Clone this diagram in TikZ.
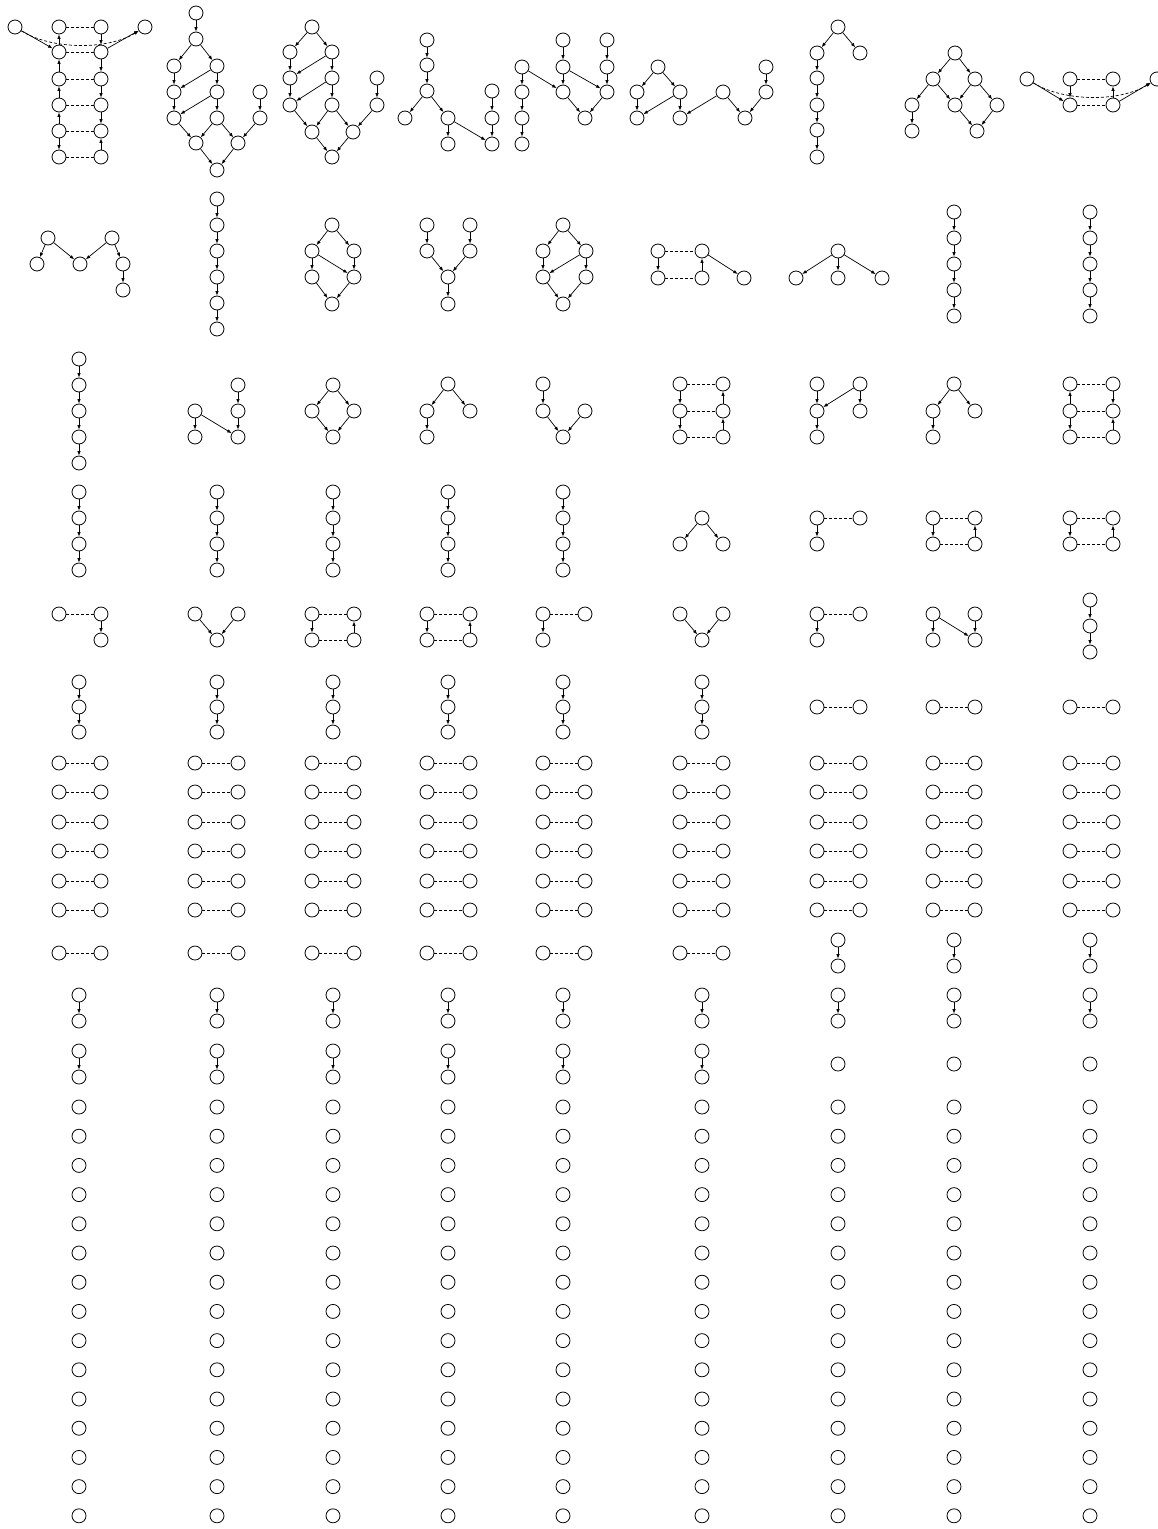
\documentclass[tikz,border=0pt]{standalone}
\usetikzlibrary{arrows.meta}

\begin{document}
\begin{tikzpicture}[x=1pt,y=-1pt,
    v/.style={circle, draw, line width=0.8pt, minimum size=14pt, inner sep=0pt},
    e/.style={-{Latex[length=4.5pt,width=3.5pt]}, line width=0.7pt},
    d/.style={dash pattern=on 3pt off 2pt, line width=0.7pt}
]
\useasboundingbox (0,0) rectangle (1158,1529);

% --- first row ---
\node[v] (a0) at (15,27) {};
\node[v] (a9) at (145,27) {};
\foreach \yy [count=\j] in {27,52,79,105,131,157} {
    \node[v] (aL\j) at (59,\yy) {};
    \node[v] (aR\j) at (101,\yy) {};
    \draw[d] (aL\j) -- (aR\j);
}
\foreach \p/\q in {a0/aL2, aR2/a9, aL2/aL1, aL3/aL2, aL4/aL3, aL5/aL4, aL5/aL6,
                   aR1/aR2, aR2/aR3, aR3/aR4, aR4/aR5, aR6/aR5}
    \draw[e] (\p) -- (\q);
\draw[e,d] (a0) .. controls (52,50) and (108,50) .. (a9);

\node[v] (b1) at (196,13) {};
\node[v] (b2) at (196,39) {};
\node[v] (b3) at (174,66) {};
\node[v] (b4) at (217,66) {};
\node[v] (b5) at (174,92) {};
\node[v] (b6) at (217,92) {};
\node[v] (b7) at (174,118) {};
\node[v] (b8) at (217,118) {};
\node[v] (b9) at (196,143) {};
\node[v] (b10) at (238,143) {};
\node[v] (b11) at (217,170) {};
\node[v] (b12) at (260,92) {};
\node[v] (b13) at (260,118) {};
\foreach \p/\q in {b1/b2, b2/b3, b2/b4, b3/b5, b4/b5, b4/b6, b5/b7, b6/b7, b6/b8,
                   b7/b9, b8/b9, b8/b10, b12/b13, b13/b10, b9/b11, b10/b11}
    \draw[e] (\p) -- (\q);

\node[v] (c1) at (312,27) {};
\node[v] (c2) at (290,52) {};
\node[v] (c3) at (332,52) {};
\node[v] (c4) at (290,78) {};
\node[v] (c5) at (332,78) {};
\node[v] (c6) at (290,105) {};
\node[v] (c7) at (332,105) {};
\node[v] (c8) at (312,132) {};
\node[v] (c9) at (353,132) {};
\node[v] (c10) at (332,157) {};
\node[v] (c11) at (377,78) {};
\node[v] (c12) at (377,105) {};
\foreach \p/\q in {c1/c2, c1/c3, c2/c4, c3/c4, c3/c5, c4/c6, c5/c6, c5/c7,
                   c6/c8, c7/c8, c7/c9, c11/c12, c12/c9, c8/c10, c9/c10}
    \draw[e] (\p) -- (\q);

\node[v] (d1) at (427,40) {};
\node[v] (d2) at (427,65) {};
\node[v] (d3) at (427,91) {};
\node[v] (d4) at (405,118) {};
\node[v] (d5) at (448,118) {};
\node[v] (d6) at (448,144) {};
\node[v] (d7) at (492,91) {};
\node[v] (d8) at (492,118) {};
\node[v] (d9) at (492,144) {};
\foreach \p/\q in {d1/d2, d2/d3, d3/d4, d3/d5, d5/d6, d5/d9, d7/d8, d8/d9}
    \draw[e] (\p) -- (\q);

\node[v] (f1) at (522,67) {};
\node[v] (f2) at (522,92) {};
\node[v] (f3) at (522,118) {};
\node[v] (f4) at (522,144) {};
\node[v] (f5) at (563,40) {};
\node[v] (f6) at (563,67) {};
\node[v] (f7) at (563,92) {};
\node[v] (f8) at (607,40) {};
\node[v] (f9) at (607,67) {};
\node[v] (f10) at (607,92) {};
\node[v] (f11) at (585,118) {};
\foreach \p/\q in {f1/f2, f2/f3, f3/f4, f1/f7, f5/f6, f6/f7, f6/f10, f8/f9, f9/f10,
                   f7/f11, f10/f11}
    \draw[e] (\p) -- (\q);

\node[v] (g1) at (658,67) {};
\node[v] (g2) at (637,92) {};
\node[v] (g3) at (680,92) {};
\node[v] (g4) at (637,118) {};
\node[v] (g5) at (680,118) {};
\node[v] (g6) at (723,92) {};
\node[v] (g7) at (745,118) {};
\node[v] (g8) at (766,67) {};
\node[v] (g9) at (766,92) {};
\foreach \p/\q in {g1/g2, g1/g3, g2/g4, g3/g4, g3/g5, g6/g5, g6/g7, g8/g9, g9/g7}
    \draw[e] (\p) -- (\q);

\node[v] (h1) at (838,27) {};
\node[v] (h2) at (817,53) {};
\node[v] (h3) at (860,53) {};
\node[v] (h4) at (817,78) {};
\node[v] (h5) at (817,105) {};
\node[v] (h6) at (817,130) {};
\node[v] (h7) at (817,157) {};
\foreach \p/\q in {h1/h2, h1/h3, h2/h4, h4/h5, h5/h6, h6/h7}
    \draw[e] (\p) -- (\q);

\node[v] (k1) at (955,53) {};
\node[v] (k2) at (933,79) {};
\node[v] (k3) at (975,79) {};
\node[v] (k4) at (912,105) {};
\node[v] (k5) at (955,105) {};
\node[v] (k6) at (997,105) {};
\node[v] (k7) at (912,131) {};
\node[v] (k8) at (977,131) {};
\foreach \p/\q in {k1/k2, k1/k3, k2/k4, k2/k5, k3/k5, k3/k6, k4/k7, k5/k8, k6/k8}
    \draw[e] (\p) -- (\q);

\node[v] (m0) at (1027,79) {};
\node[v] (m1) at (1070,79) {};
\node[v] (m2) at (1070,105) {};
\node[v] (m3) at (1113,79) {};
\node[v] (m4) at (1113,105) {};
\node[v] (m5) at (1157,79) {};
\draw[d] (m1) -- (m3);
\draw[d] (m2) -- (m4);
\foreach \p/\q in {m0/m2, m1/m2, m4/m3, m4/m5}
    \draw[e] (\p) -- (\q);
\draw[e,d] (m0) .. controls (1064,102) and (1120,102) .. (m5);

% --- second row ---
\node[v] (n1) at (48,238) {};
\node[v] (n2) at (37,264) {};
\node[v] (n3) at (80,264) {};
\node[v] (n4) at (112,238) {};
\node[v] (n5) at (123,264) {};
\node[v] (n6) at (123,290) {};
\foreach \p/\q in {n1/n2, n1/n3, n4/n3, n4/n5, n5/n6}
    \draw[e] (\p) -- (\q);

\node[v] (q1) at (332,225) {};
\node[v] (q2) at (312,251) {};
\node[v] (q3) at (354,251) {};
\node[v] (q4) at (312,277) {};
\node[v] (q5) at (354,277) {};
\node[v] (q6) at (332,304) {};
\foreach \p/\q in {q1/q2, q1/q3, q2/q4, q2/q5, q3/q5, q4/q6, q5/q6}
    \draw[e] (\p) -- (\q);

\node[v] (r1) at (427,225) {};
\node[v] (r2) at (470,225) {};
\node[v] (r3) at (427,251) {};
\node[v] (r4) at (470,251) {};
\node[v] (r5) at (448,277) {};
\node[v] (r6) at (448,304) {};
\foreach \p/\q in {r1/r3, r2/r4, r3/r5, r4/r5, r5/r6}
    \draw[e] (\p) -- (\q);

\node[v] (s1) at (563,225) {};
\node[v] (s2) at (543,251) {};
\node[v] (s3) at (586,251) {};
\node[v] (s4) at (543,277) {};
\node[v] (s5) at (586,277) {};
\node[v] (s6) at (563,304) {};
\foreach \p/\q in {s1/s2, s1/s3, s2/s4, s3/s4, s3/s5, s4/s6, s5/s6}
    \draw[e] (\p) -- (\q);

\node[v] (u1) at (838,251) {};
\node[v] (u2) at (796,278) {};
\node[v] (u3) at (838,278) {};
\node[v] (u4) at (882,278) {};
\foreach \p/\q in {u1/u2, u1/u3, u1/u4}
    \draw[e] (\p) -- (\q);

% ladders: left column down, right column up
\foreach \nm/\lx/\rx/\ya/\yb in {t/658/702/251/278, lc/933/975/518/544, ld/1070/1113/518/544,
                                 le/312/354/614/640, lf/427/470/614/640} {
    \node[v] (\nm1) at (\lx,\ya) {};
    \node[v] (\nm2) at (\lx,\yb) {};
    \node[v] (\nm3) at (\rx,\ya) {};
    \node[v] (\nm4) at (\rx,\yb) {};
    \draw[d] (\nm1) -- (\nm3);
    \draw[d] (\nm2) -- (\nm4);
    \draw[e] (\nm1) -- (\nm2);
    \draw[e] (\nm4) -- (\nm3);
}
\node[v] (t5) at (744,278) {};
\draw[e] (t3) -- (t5);

% --- third row ---
\node[v] (w1) at (195,411) {};
\node[v] (w2) at (195,437) {};
\node[v] (w3) at (238,385) {};
\node[v] (w4) at (238,411) {};
\node[v] (w5) at (238,437) {};
\node[v] (z1) at (333,385) {};
\node[v] (z2) at (312,411) {};
\node[v] (z3) at (354,411) {};
\node[v] (z4) at (333,437) {};
\node[v] (x1) at (448,384) {};
\node[v] (x2) at (427,411) {};
\node[v] (x3) at (470,411) {};
\node[v] (x4) at (427,437) {};
\node[v] (y1) at (543,384) {};
\node[v] (y2) at (543,411) {};
\node[v] (y3) at (585,411) {};
\node[v] (y4) at (563,437) {};
\node[v] (j1) at (817,384) {};
\node[v] (j2) at (817,411) {};
\node[v] (j3) at (817,437) {};
\node[v] (j4) at (860,384) {};
\node[v] (j5) at (860,411) {};
\node[v] (i1) at (954,384) {};
\node[v] (i2) at (933,411) {};
\node[v] (i3) at (975,411) {};
\node[v] (i4) at (933,437) {};
\foreach \yy [count=\j] in {384,411,437} {
    \node[v] (la\j) at (680,\yy) {};
    \node[v] (ra\j) at (723,\yy) {};
    \draw[d] (la\j) -- (ra\j);
    \node[v] (lb\j) at (1070,\yy) {};
    \node[v] (rb\j) at (1113,\yy) {};
    \draw[d] (lb\j) -- (rb\j);
}
\foreach \p/\q in {w1/w2, w1/w5, w3/w4, w4/w5, z1/z2, z1/z3, z2/z4, z3/z4,
                   x1/x2, x1/x3, x2/x4, y1/y2, y2/y4, y3/y4,
                   la1/la2, la2/la3, ra3/ra2, ra2/ra1,
                   j1/j2, j4/j2, j2/j3, j4/j5, i1/i2, i1/i3, i2/i4,
                   lb2/lb1, lb2/lb3, rb1/rb2, rb3/rb2}
    \draw[e] (\p) -- (\q);

% --- fourth and fifth row ---
\node[v] (v1) at (702,518) {};
\node[v] (v2) at (680,544) {};
\node[v] (v3) at (723,544) {};
\draw[e] (v1) -- (v2);
\draw[e] (v1) -- (v3);

% corners: dashed pair, arrow down on the left
\foreach \nm/\lx/\rx/\ya/\yb in {sa/817/860/518/544, sc/543/585/614/640, sd/817/860/614/640} {
    \node[v] (\nm1) at (\lx,\ya) {};
    \node[v] (\nm2) at (\rx,\ya) {};
    \node[v] (\nm3) at (\lx,\yb) {};
    \draw[d] (\nm1) -- (\nm2);
    \draw[e] (\nm1) -- (\nm3);
}
\node[v] (sb1) at (59,614) {};
\node[v] (sb2) at (101,614) {};
\node[v] (sb3) at (101,640) {};
\draw[d] (sb1) -- (sb2);
\draw[e] (sb2) -- (sb3);

% two into one
\foreach \nm/\lx/\mx/\rx in {va/195/217/238, vb/680/702/723} {
    \node[v] (\nm1) at (\lx,614) {};
    \node[v] (\nm2) at (\rx,614) {};
    \node[v] (\nm3) at (\mx,640) {};
    \draw[e] (\nm1) -- (\nm3);
    \draw[e] (\nm2) -- (\nm3);
}
\node[v] (na1) at (933,614) {};
\node[v] (na2) at (975,614) {};
\node[v] (na3) at (933,640) {};
\node[v] (na4) at (975,640) {};
\foreach \p/\q in {na1/na3, na1/na4, na2/na4}
    \draw[e] (\p) -- (\q);

% chains
\foreach \nm/\cx/\yo/\st/\n in {p/217/199/26/6, ca/954/212/26/5, cb/1090/212/26/5, cc/79/359/26/5,
        da/79/492/26/4, db/217/492/26/4, dc/333/492/26/4, dd/448/492/26/4, de/563/492/26/4,
        ea/1090/600/26/3,
        fa/79/682/25/3, fb/217/682/25/3, fc/333/682/25/3, fd/448/682/25/3, fe/563/682/25/3, ff/702/682/25/3,
        ga/838/940/26/2, gb/954/940/26/2, gc/1090/940/26/2,
        ha/79/995/26/2, hb/217/995/26/2, hc/333/995/26/2, hd/448/995/26/2, he/563/995/26/2,
        hf/702/995/26/2, hg/838/995/26/2, hh/954/995/26/2, hi/1090/995/26/2,
        ia/79/1051/26/2, ib/217/1051/26/2, ic/333/1051/26/2, id/448/1051/26/2, ie/563/1051/26/2,
        if/702/1051/26/2} {
    \foreach \j in {1,...,\n}
        \node[v] (\nm\j) at (\cx,{\yo+\st*(\j-1)}) {};
    \foreach \j [evaluate=\j as \i using int(\j-1)] in {2,...,\n}
        \draw[e] (\nm\i) -- (\nm\j);
}

% dashed pairs
\foreach \lx/\rx [count=\i] in {59/101, 195/238, 312/354, 427/470, 543/585, 680/723,
                                817/860, 933/975, 1070/1113} {
    \foreach \yy [count=\j] in {763,792,822,851,881,910} {
        \node[v] (hl\i-\j) at (\lx,\yy) {};
        \node[v] (hr\i-\j) at (\rx,\yy) {};
        \draw[d] (hl\i-\j) -- (hr\i-\j);
    }
}
\foreach \lx/\rx [count=\i] in {59/101, 195/238, 312/354, 427/470, 543/585, 680/723} {
    \node[v] (kl\i) at (\lx,953) {};
    \node[v] (kr\i) at (\rx,953) {};
    \draw[d] (kl\i) -- (kr\i);
}
\foreach \lx/\rx [count=\i] in {817/860, 933/975, 1070/1113} {
    \node[v] (ml\i) at (\lx,707) {};
    \node[v] (mr\i) at (\rx,707) {};
    \draw[d] (ml\i) -- (mr\i);
}
\foreach \cx [count=\i] in {838,954,1090}
    \node[v] (sg\i) at (\cx,1064) {};

% single nodes
\foreach \cx [count=\i] in {79,217,333,448,563,702,838,954,1090}
    \foreach \k in {0,...,14}
        \node[v] (o\i-\k) at (\cx,{1107+29.2*\k}) {};
\end{tikzpicture}
\end{document}
